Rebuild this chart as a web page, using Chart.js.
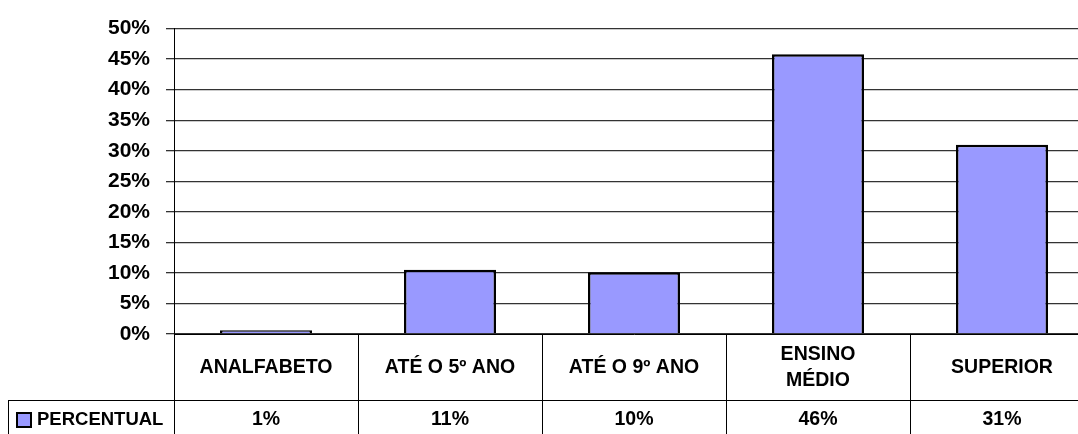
<!DOCTYPE html>
<html>
<head>
<meta charset="utf-8">
<script src="https://cdn.jsdelivr.net/npm/chart.js@4"></script>
<style>
  html, body { margin: 0; padding: 0; background: #fff; overflow: hidden; }
  #wrap { width: 1078px; height: 434px; overflow: hidden; }
</style>
</head>
<body>
<div id="wrap"><canvas id="chart" width="1100" height="440"></canvas></div>
<script>
// data
const categories = [["ANALFABETO"], ["ATÉ O 5º ANO"], ["ATÉ O 9º ANO"], ["ENSINO", "MÉDIO"], ["SUPERIOR"]];
const percentual = [0.6, 10.5, 10.1, 45.8, 31.0];
const tableLabels = ["1%", "11%", "10%", "46%", "31%"];
const seriesName = "PERCENTUAL";

const FONT = "'Liberation Sans', Arial, sans-serif";
const BAR_COLOR = "#9999FF";

// ---------------- Data table under the axis ----------------
const dataTable = {
    id: "dataTable",
    afterDraw(chart) {
        const ctx = chart.ctx;
        const x = chart.scales.x;
        const rowTop = x.top;
        const rowMid = rowTop + 66;
        const valY = rowMid + 20;

        ctx.save();
        ctx.fillStyle = "#000";
        ctx.font = "bold 19.5px " + FONT;
        ctx.textAlign = "center";
        ctx.textBaseline = "middle";

        categories.forEach((lines, i) => {
            const cx = x.getPixelForValue(i);
            const cy = rowTop + 34;
            const lh = 26;
            lines.forEach((t, j) => {
                ctx.fillText(t, cx, cy + (j - (lines.length - 1) / 2) * lh);
            });
            ctx.fillText(tableLabels[i], cx, valY);
        });

        // row separator + left box edge
        ctx.strokeStyle = "#000";
        ctx.lineWidth = 1;
        ctx.beginPath();
        ctx.moveTo(8, rowMid + 0.5);
        ctx.lineTo(chart.width, rowMid + 0.5);
        ctx.moveTo(8.5, rowMid);
        ctx.lineTo(8.5, chart.height);
        ctx.stroke();

        // legend key
        ctx.fillStyle = BAR_COLOR;
        ctx.fillRect(17, valY - 7, 14, 14);
        ctx.lineWidth = 2;
        ctx.strokeRect(17, valY - 7, 14, 14);

        ctx.fillStyle = "#000";
        ctx.textAlign = "left";
        ctx.font = "bold 18.5px " + FONT;
        ctx.fillText(seriesName, 37, valY);
        ctx.restore();
    }
};

new Chart(document.getElementById("chart"), {
    type: "bar",
    data: {
        labels: categories,
        datasets: [{
            label: seriesName,
            data: percentual,
            backgroundColor: BAR_COLOR,
            borderColor: "#000",
            borderWidth: 2.5,
            barPercentage: 0.5,
            categoryPercentage: 1
        }]
    },
    options: {
        responsive: false,
        animation: false,
        layout: { padding: { top: 26, left: 0, right: 6, bottom: 6 } },
        plugins: {
            legend: { display: false },
            tooltip: { enabled: false }
        },
        scales: {
            x: {
                afterFit: (s) => { s.height = 100; },
                ticks: { display: false },
                border: { color: "#000", width: 1 },
                grid: {
                    offset: true,
                    drawOnChartArea: false,
                    tickLength: 100,
                    color: "#000"
                }
            },
            y: {
                min: 0,
                max: 50,
                afterFit: (s) => { s.width = 174; },
                border: { color: "#000", width: 1 },
                grid: { color: "#333", lineWidth: 1.3, tickLength: 8 },
                ticks: {
                    stepSize: 5,
                    padding: 16,
                    color: "#000",
                    font: { family: FONT, size: 21, weight: "bold" },
                    callback: (v) => v + "%"
                }
            }
        }
    },
    plugins: [dataTable]
});
</script>
</body>
</html>
